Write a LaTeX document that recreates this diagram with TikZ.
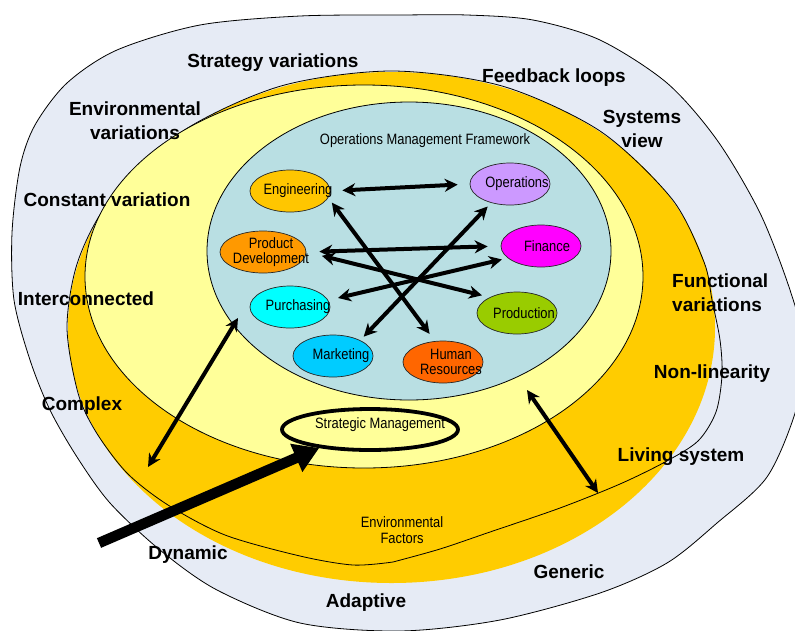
\documentclass[tikz,border=0pt]{standalone}
\usepackage{fontspec}
\setmainfont{Liberation Sans}
\newfontfamily\narrowsans{Liberation Sans}[FakeStretch=0.86]
\usetikzlibrary{shapes.geometric,arrows.meta,calc}

\definecolor{outerblue}{RGB}{230,235,245}
\definecolor{envorange}{RGB}{255,204,0}
\definecolor{paleyellow}{RGB}{255,255,153}
\definecolor{omfblue}{RGB}{185,223,227}
\definecolor{enggold}{RGB}{255,198,0}
\definecolor{pdorange}{RGB}{255,153,0}
\definecolor{opslilac}{RGB}{204,153,255}
\definecolor{finmagenta}{RGB}{255,0,255}
\definecolor{purcyan}{RGB}{0,255,255}
\definecolor{prodgreen}{RGB}{153,204,0}
\definecolor{mktblue}{RGB}{0,204,255}
\definecolor{hrorange}{RGB}{255,102,0}

\tikzset{
  unit/.style={ellipse, draw=black!85, line width=0.7pt, minimum width=80pt,
    minimum height=42pt, inner sep=0pt},
  unittext/.style={font=\narrowsans\fontsize{15}{15.5}\selectfont, align=center, inner sep=0pt},
  smalltext/.style={font=\narrowsans\fontsize{15}{16}\selectfont, align=center, inner sep=0pt},
  biglabel/.style={font=\bfseries\fontsize{19}{24}\selectfont, align=center, inner sep=0pt,
    yshift=-1.5pt},
  link/.style={line width=4pt,
    {Stealth[length=13pt,width=13pt]}-{Stealth[length=13pt,width=13pt]}},
  thinline/.style={line width=0.8pt, draw=black},
}

\begin{document}
\begin{tikzpicture}[x=1pt,y=-1pt]
\useasboundingbox (0,0) rectangle (795,630);
\clip (0,0) rectangle (795,630);

% outer environment
\filldraw[fill=outerblue, thinline] plot[smooth cycle] coordinates {
  (400,15) (467,15) (533,20) (600,40) (667,83) (717,140) (760,213)
  (790,290) (805,350) (796,410) (767,477) (717,523) (667,563) (600,593)
  (500,620) (400,631) (300,623) (217,590) (160,550) (110,503) (77,457)
  (50,410) (30,360) (14,300) (12,233) (20,167) (35,125) (67,83) (117,50)
  (200,25) (300,16)};

% environmental factors layer
\fill[envorange] (391.5,327.5) ellipse [x radius=323.5, y radius=255.5];
\draw[thinline] plot[smooth] coordinates {
  (393,562) (440,549) (490,532) (560,508) (620,484) (665,462) (698,441)
  (716,412) (722,375) (720,340) (712,300) (704,262) (672,199) (600,131)
  (502,86) (391.5,71) (281,86) (183,131) (111,199) (78,261) (67,327)
  (78,393) (96,432) (127,473) (168,505) (225,535) (300,556) (353,565)
  (393,562)};

% strategic layer
\filldraw[fill=paleyellow, thinline] (364,276.5) ellipse [x radius=279, y radius=191.5];

% operations management framework
\filldraw[fill=omfblue, thinline] (409,251) ellipse [x radius=202, y radius=149];
\node[smalltext] (omftitle) at (425,141) {Operations Management Framework};

% functional units
\node[unit, fill=enggold, label={[unittext, xshift=8pt]center:Engineering}] (eng) at (290,191) {};
\node[unit, fill=opslilac, label={[unittext, xshift=7pt]center:Operations}] (ops) at (510,184) {};
\node[unit, minimum width=86pt, fill=pdorange, label={[unittext, xshift=8pt]center:{Product\\Development}}] (pd) at (263,252) {};
\node[unit, fill=finmagenta, label={[unittext, xshift=6pt]center:Finance}] (fin) at (541,246) {};
\node[unit, fill=purcyan, label={[unittext, xshift=8pt]center:Purchasing}] (pur) at (290,307) {};
\node[unit, fill=prodgreen, label={[unittext, xshift=7pt]center:Production}] (prod) at (517,313) {};
\node[unit, fill=mktblue, label={[unittext, xshift=8pt]center:Marketing}] (mkt) at (333,356) {};
\node[unit, fill=hrorange, label={[unittext, xshift=8pt]center:{Human\\Resources}}] (hr) at (443,362) {};

% links between functions
\draw[link, shorten <=12pt, shorten >=12pt] (eng.east) -- (ops.west);
\draw[link, shorten <=6pt, shorten >=9pt] (eng.-10) -- (hr.111);
\draw[link, shorten <=5pt, shorten >=5pt] (mkt.30) -- (ops.225);
\draw[link, shorten <=13pt, shorten >=13pt] (pd.east) -- (fin.west);
\draw[link, shorten <=16pt, shorten >=8pt] (pd.east) -- (prod.150);
\draw[link, shorten <=10pt, shorten >=6pt] (pur.10) -- (fin.200);

% links across the layers
\coordinate (stratL) at (148,467);
\coordinate (omfL) at (238,318);
\coordinate (omfR) at (527,390);
\coordinate (envR) at (598,493);
\draw[link] (stratL) -- (omfL);
\draw[link] (omfR) -- (envR);

% strategic management
\node[ellipse, draw=black, line width=3.8pt, fill=paleyellow, minimum width=176pt,
  minimum height=41pt, inner sep=0pt,
  label={[smalltext, xshift=10pt, yshift=5pt]center:Strategic Management}] (sm) at (370,429.5) {};

\coordinate (bigtail) at (99,543);
\draw[line width=10.5pt, -{Triangle[length=25pt,width=29pt]}] (bigtail) -- (sm.200);

\node[smalltext] (envfac) at (402,530) {Environmental\\Factors};

% characteristics of the environment
\node[biglabel] (lstrat) at (273,61) {Strategy variations};
\node[biglabel] (lfeed) at (554,76) {Feedback loops};
\node[biglabel] (lenv) at (135,119) {Environmental\\variations};
\node[biglabel] (lsys) at (642,127) {Systems\\view};
\node[biglabel] (lconst) at (107,198) {Constant variation};
\node[biglabel] (linter) at (86,297) {Interconnected};
\node[biglabel, align=left, anchor=west] (lfunc) at (672,291) {Functional\\variations};
\node[biglabel] (lnonlin) at (712,372) {Non-linearity};
\node[biglabel] (lcomplex) at (82,404) {Complex};
\node[biglabel] (lliving) at (681,455) {Living system};
\node[biglabel] (ldyn) at (188,553) {Dynamic};
\node[biglabel] (ladapt) at (366,601) {Adaptive};
\node[biglabel] (lgen) at (569,570) {Generic};
\end{tikzpicture}
\end{document}
